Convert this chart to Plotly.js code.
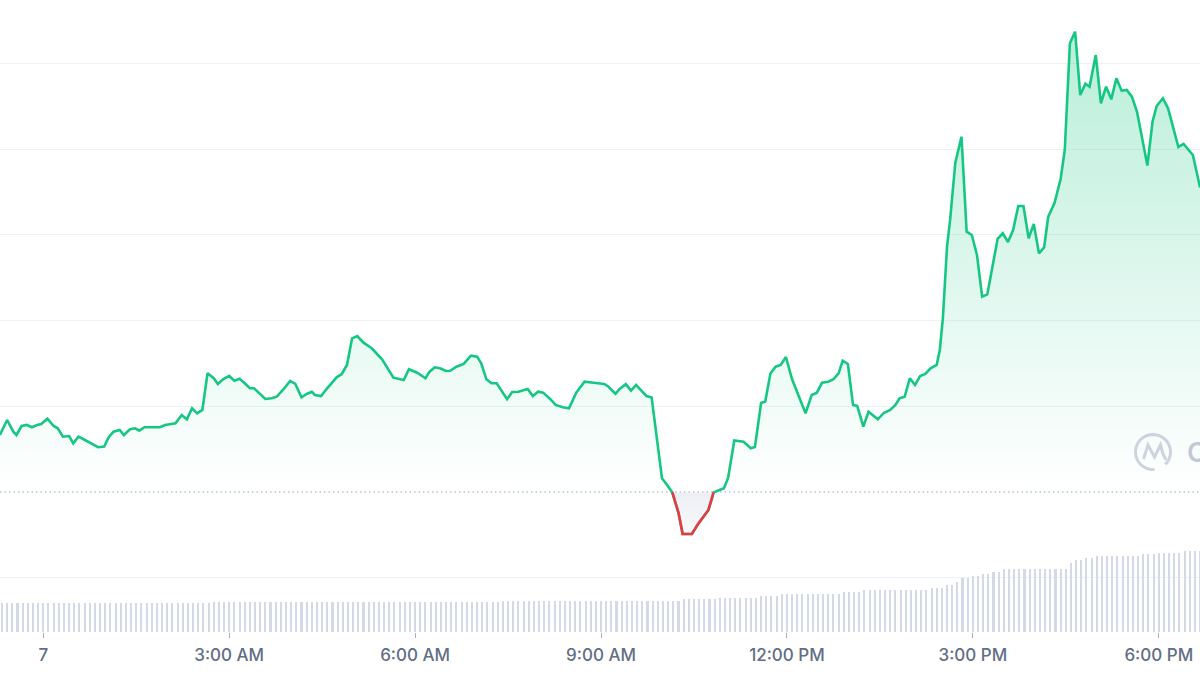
<!DOCTYPE html>
<html>
<head>
<meta charset="utf-8">
<script src="https://cdn.plot.ly/plotly-3.0.1.min.js"></script>
<style>html,body{margin:0;padding:0;background:#fff}#chart{width:1200px;height:675px}</style>
</head>
<body>
<div id="chart"></div>
<script>
// ---- data ----
const openPrice = 100;

const priceTimes = [
'2023-06-06 23:18','2023-06-06 23:25','2023-06-06 23:31','2023-06-06 23:34','2023-06-06 23:39','2023-06-06 23:44','2023-06-06 23:49','2023-06-06 23:54','2023-06-06 23:58',
'2023-06-07 00:04','2023-06-07 00:10','2023-06-07 00:14','2023-06-07 00:19','2023-06-07 00:25','2023-06-07 00:29','2023-06-07 00:34','2023-06-07 00:39','2023-06-07 00:47','2023-06-07 00:53','2023-06-07 00:59',
'2023-06-07 01:03','2023-06-07 01:08','2023-06-07 01:14','2023-06-07 01:18','2023-06-07 01:24','2023-06-07 01:29','2023-06-07 01:33','2023-06-07 01:38','2023-06-07 01:43','2023-06-07 01:49','2023-06-07 01:53','2023-06-07 01:58',
'2023-06-07 02:08','2023-06-07 02:14','2023-06-07 02:19','2023-06-07 02:24','2023-06-07 02:29','2023-06-07 02:34','2023-06-07 02:39','2023-06-07 02:45','2023-06-07 02:49','2023-06-07 02:54',
'2023-06-07 03:00','2023-06-07 03:05','2023-06-07 03:10','2023-06-07 03:15','2023-06-07 03:20','2023-06-07 03:24','2023-06-07 03:30','2023-06-07 03:35','2023-06-07 03:41','2023-06-07 03:46','2023-06-07 03:52','2023-06-07 03:59',
'2023-06-07 04:04','2023-06-07 04:10','2023-06-07 04:15','2023-06-07 04:20','2023-06-07 04:23','2023-06-07 04:29','2023-06-07 04:34','2023-06-07 04:39','2023-06-07 04:44','2023-06-07 04:49','2023-06-07 04:54','2023-06-07 04:59',
'2023-06-07 05:04','2023-06-07 05:10','2023-06-07 05:18','2023-06-07 05:28','2023-06-07 05:34','2023-06-07 05:39','2023-06-07 05:49','2023-06-07 05:54',
'2023-06-07 06:02','2023-06-07 06:10','2023-06-07 06:14','2023-06-07 06:19','2023-06-07 06:24','2023-06-07 06:30','2023-06-07 06:34','2023-06-07 06:40','2023-06-07 06:47','2023-06-07 06:50','2023-06-07 06:54',
'2023-06-07 07:00','2023-06-07 07:04','2023-06-07 07:09','2023-06-07 07:14','2023-06-07 07:19','2023-06-07 07:24','2023-06-07 07:29','2023-06-07 07:34','2023-06-07 07:40','2023-06-07 07:49','2023-06-07 07:54','2023-06-07 07:59',
'2023-06-07 08:04','2023-06-07 08:11','2023-06-07 08:16','2023-06-07 08:23','2023-06-07 08:29','2023-06-07 08:36','2023-06-07 08:44','2023-06-07 08:53',
'2023-06-07 09:03','2023-06-07 09:07','2023-06-07 09:14','2023-06-07 09:18','2023-06-07 09:24','2023-06-07 09:29','2023-06-07 09:34','2023-06-07 09:39','2023-06-07 09:44','2023-06-07 09:49','2023-06-07 09:59',
'2023-06-07 10:04','2023-06-07 10:09','2023-06-07 10:15','2023-06-07 10:19','2023-06-07 10:28','2023-06-07 10:34','2023-06-07 10:44','2023-06-07 10:49','2023-06-07 10:53','2023-06-07 10:59',
'2023-06-07 11:03','2023-06-07 11:09','2023-06-07 11:18','2023-06-07 11:25','2023-06-07 11:29','2023-06-07 11:35','2023-06-07 11:39','2023-06-07 11:44','2023-06-07 11:49','2023-06-07 11:54','2023-06-07 11:59',
'2023-06-07 12:05','2023-06-07 12:18','2023-06-07 12:24','2023-06-07 12:29','2023-06-07 12:34','2023-06-07 12:40','2023-06-07 12:45','2023-06-07 12:50','2023-06-07 12:54','2023-06-07 12:59',
'2023-06-07 13:04','2023-06-07 13:08','2023-06-07 13:14','2023-06-07 13:19','2023-06-07 13:28','2023-06-07 13:34','2023-06-07 13:40','2023-06-07 13:45','2023-06-07 13:49','2023-06-07 13:54','2023-06-07 13:59',
'2023-06-07 14:04','2023-06-07 14:09','2023-06-07 14:14','2023-06-07 14:19','2023-06-07 14:25','2023-06-07 14:28','2023-06-07 14:31','2023-06-07 14:35','2023-06-07 14:38','2023-06-07 14:43','2023-06-07 14:49','2023-06-07 14:54','2023-06-07 14:59',
'2023-06-07 15:04','2023-06-07 15:09','2023-06-07 15:14','2023-06-07 15:24','2023-06-07 15:29','2023-06-07 15:34','2023-06-07 15:39','2023-06-07 15:44','2023-06-07 15:49','2023-06-07 15:54','2023-06-07 15:59',
'2023-06-07 16:04','2023-06-07 16:09','2023-06-07 16:13','2023-06-07 16:19','2023-06-07 16:25','2023-06-07 16:29','2023-06-07 16:34','2023-06-07 16:39','2023-06-07 16:44','2023-06-07 16:49','2023-06-07 16:53','2023-06-07 16:59',
'2023-06-07 17:04','2023-06-07 17:09','2023-06-07 17:14','2023-06-07 17:19','2023-06-07 17:24','2023-06-07 17:29','2023-06-07 17:34','2023-06-07 17:39','2023-06-07 17:49','2023-06-07 17:54','2023-06-07 17:58',
'2023-06-07 18:04','2023-06-07 18:09','2023-06-07 18:19','2023-06-07 18:24','2023-06-07 18:33','2023-06-07 18:40'
];

const priceValues = [
100.665,100.840,100.704,100.665,100.770,100.782,100.755,100.782,100.793,
100.855,100.770,100.743,100.645,100.653,100.568,100.645,100.615,100.560,100.522,100.529,
100.634,100.704,100.723,100.665,100.732,100.743,100.715,100.755,100.755,100.762,100.755,100.782,
100.802,100.898,100.848,100.977,100.918,100.957,101.385,101.327,101.260,101.315,
101.354,101.299,101.322,101.268,101.210,101.210,101.144,101.085,101.093,101.112,101.190,101.295,
101.260,101.105,101.144,101.170,101.132,101.120,101.198,101.268,101.338,101.377,101.482,101.793,
101.820,101.742,101.677,101.548,101.432,101.334,101.307,101.432,
101.392,101.327,101.404,101.455,101.443,101.412,101.415,101.462,101.494,101.532,101.590,
101.579,101.502,101.315,101.268,101.268,101.170,101.082,101.167,101.170,101.202,101.120,101.170,
101.159,101.082,101.015,100.988,100.977,101.159,101.287,101.275,
101.260,101.231,101.146,101.202,101.258,101.182,101.249,101.182,101.120,101.103,100.160,
100.082,99.995,99.758,99.510,99.510,99.627,99.790,99.995,100.015,100.043,
100.160,100.601,100.587,100.510,100.525,101.039,101.056,101.383,101.462,101.482,101.575,
101.315,100.918,101.132,101.159,101.275,101.287,101.315,101.385,101.532,101.494,
101.015,101.004,100.762,100.937,100.848,100.925,100.957,101.015,101.093,101.112,101.327,
101.249,101.354,101.377,101.443,101.482,101.657,102.030,102.862,103.174,103.839,104.146,103.037,102.999,
102.765,102.279,102.305,102.954,103.019,102.917,103.057,103.337,103.337,102.960,103.127,
102.785,102.855,103.212,103.369,103.652,103.991,105.236,105.371,104.632,104.764,104.729,105.099,
104.536,104.729,104.582,104.827,104.683,104.691,104.613,104.434,103.810,104.323,104.504,
104.594,104.477,104.026,104.061,103.932,103.553
];

// volume (millions), one bar every 5 minutes from volumeStart
const volumeStart = [2023, 5, 6, 23, 20]; // year, month index, day, hour, minute
const volumeStepMinutes = 5;
const volumeValues = [
1.82,1.82,1.82,1.82,1.82,1.82,1.82,1.82,1.82,1.82,1.82,1.82,1.82,1.82,1.82,1.82,1.82,1.82,1.82,1.82,
1.82,1.82,1.82,1.82,1.82,1.82,1.82,1.82,1.82,1.82,1.82,1.82,1.82,1.82,1.82,1.82,1.82,1.82,1.82,1.82,1.82,
1.92,1.92,1.92,1.92,1.92,1.92,1.92,1.92,1.92,1.92,1.92,1.92,1.92,1.92,1.92,1.92,1.92,1.92,1.92,1.92,
1.92,1.92,1.92,1.92,1.92,1.92,1.92,1.92,1.92,1.92,1.92,1.92,1.92,1.92,1.92,1.92,1.92,1.92,1.92,1.92,
1.92,1.92,1.92,1.92,1.92,1.92,1.92,1.92,1.92,1.92,1.92,1.92,1.92,1.92,1.92,1.92,
1.96,1.96,1.96,1.96,1.96,1.96,1.96,1.96,1.96,1.96,1.96,1.96,1.96,1.96,1.96,1.96,1.96,1.96,1.96,1.96,
1.96,1.96,1.96,1.96,1.96,1.96,1.96,1.96,1.96,1.96,1.96,1.96,1.96,1.96,1.96,
2.11,2.11,2.11,2.11,2.11,2.11,2.11,
2.17,2.17,2.17,2.17,2.17,2.17,2.17,2.17,
2.28,2.28,2.28,2.28,
2.39,2.39,2.39,2.39,2.39,2.39,2.39,2.39,2.39,2.39,2.39,2.39,
2.51,2.51,2.51,2.51,
2.69,2.69,2.69,2.69,2.69,2.69,2.69,2.69,2.69,2.69,2.69,2.69,2.69,
2.80,2.80,2.80,
2.97,2.97,
3.18,
3.40,3.40,
3.54,3.54,
3.67,3.67,
3.78,3.78,
3.97,3.97,3.97,3.97,3.97,3.97,3.97,3.97,3.97,3.97,3.97,3.97,3.97,
4.35,
4.56,4.56,
4.70,4.70,
4.83,4.83,4.83,4.83,4.83,4.83,4.83,4.83,4.83,
4.92,4.92,4.92,
5.02,5.02,5.02,5.02,5.02,
5.13,5.13,5.13,5.13
];

const tickTimes = ['2023-06-07 00:00','2023-06-07 03:00','2023-06-07 06:00','2023-06-07 09:00','2023-06-07 12:00','2023-06-07 15:00','2023-06-07 18:00'];
const tickLabels = ['7','3:00 AM','6:00 AM','9:00 AM','12:00 PM','3:00 PM','6:00 PM'];

// ---- build ----
const t0 = Date.UTC(volumeStart[0], volumeStart[1], volumeStart[2], volumeStart[3], volumeStart[4]);
const volumeTimes = volumeValues.map((_, i) =>
  new Date(t0 + i * volumeStepMinutes * 60000).toISOString().slice(0, 19).replace('T', ' '));

// segment below the open price (drawn red)
const belowIdx = priceValues.map((v, i) => v < openPrice ? i : -1).filter(i => i >= 0);
const rA = belowIdx[0], rB = belowIdx[belowIdx.length - 1];
const redTimes = priceTimes.slice(rA, rB + 1);
const redValues = priceValues.slice(rA, rB + 1);

const GREEN = '#16c784', RED = '#ea3943';

const traces = [
  {
    type: 'bar', x: volumeTimes, y: volumeValues, yaxis: 'y2',
    marker: { color: '#d3d9e6', line: { width: 0 } },
    width: 2 * 60000, hoverinfo: 'skip'
  },
  {
    type: 'scatter', mode: 'lines', x: priceTimes, y: priceValues,
    line: { color: GREEN, width: 2.6, shape: 'linear' },
    fill: 'tozeroy',
    fillgradient: {
      type: 'vertical', start: openPrice, stop: 105.39,
      colorscale: [[0, 'rgba(22,199,132,0)'], [1, 'rgba(22,199,132,0.30)']]
    },
    hoverinfo: 'skip'
  },
  {
    type: 'scatter', mode: 'lines', x: redTimes, y: redValues,
    line: { color: RED, width: 2.6 },
    fill: 'toself',
    fillgradient: {
      type: 'vertical', start: openPrice, stop: 99.45,
      colorscale: [[0, 'rgba(190,196,214,0.28)'], [1, 'rgba(190,196,214,0.08)']]
    },
    hoverinfo: 'skip'
  }
];

// CoinMarketCap-style watermark ring (decoration)
function ringPath(r, a0, a1, n) {
  let s = '';
  for (let k = 0; k <= n; k++) {
    const a = (a0 + (a1 - a0) * k / n) * Math.PI / 180;
    s += (k ? ' L' : 'M') + (r * Math.cos(a)).toFixed(2) + ',' + (r * Math.sin(a)).toFixed(2);
  }
  return s;
}
const logoX = 1153 / 1200, logoY = (632 - 452) / 632;
const logoColor = 'rgba(175,183,204,0.6)';

const layout = {
  width: 1200, height: 675,
  margin: { l: 0, r: 0, t: 0, b: 43, pad: 0 },
  paper_bgcolor: '#ffffff', plot_bgcolor: '#ffffff',
  showlegend: false, hovermode: false, bargap: 0,
  xaxis: {
    type: 'date',
    range: ['2023-06-06 23:18:05', '2023-06-07 18:39:56'],
    tickmode: 'array', tickvals: tickTimes, ticktext: tickLabels,
    ticks: 'outside', ticklen: 5, tickwidth: 1, tickcolor: '#a6b0c3',
    ticklabelstandoff: 3,
    showgrid: false, zeroline: false, showline: false,
    tickfont: { family: 'Inter, Roboto, sans-serif', size: 17, color: '#616e85', weight: 500 },
    fixedrange: true
  },
  yaxis: {
    range: [98.366, 105.741],
    tickmode: 'array', tickvals: [99, 101, 102, 103, 104, 105],
    showticklabels: false, ticks: '',
    showgrid: true, gridcolor: '#eff2f5', gridwidth: 1,
    zeroline: false, showline: false, fixedrange: true
  },
  yaxis2: {
    overlaying: 'y', range: [0, 40], visible: false, fixedrange: true
  },
  shapes: [
    {
      type: 'line', layer: 'below', xref: 'paper', x0: 0, x1: 1, yref: 'y', y0: openPrice, y1: openPrice,
      line: { color: '#9aa3b6', width: 1, dash: '1.5px,3px' }
    },
    {
      type: 'path', xref: 'paper', yref: 'paper', xsizemode: 'pixel', ysizemode: 'pixel',
      xanchor: logoX, yanchor: logoY,
      path: ringPath(17.5, -45, 275, 40),
      line: { color: logoColor, width: 3 }
    },
    {
      type: 'path', xref: 'paper', yref: 'paper', xsizemode: 'pixel', ysizemode: 'pixel',
      xanchor: logoX, yanchor: logoY,
      path: 'M-9.5,-7 L-5,7 L1.5,-5 L7.5,7 L10,-2 L13,-8',
      line: { color: logoColor, width: 3 }
    }
  ],
  annotations: [
    {
      text: 'CoinMarketCap', xref: 'paper', yref: 'paper',
      x: 1185 / 1200, y: logoY, xanchor: 'left', yanchor: 'middle', showarrow: false,
      font: { family: 'Inter, Roboto, sans-serif', size: 27, color: 'rgba(175,183,204,0.75)', weight: 600 }
    }
  ]
};

Plotly.newPlot('chart', traces, layout, { staticPlot: true, displayModeBar: false });
</script>
</body>
</html>
